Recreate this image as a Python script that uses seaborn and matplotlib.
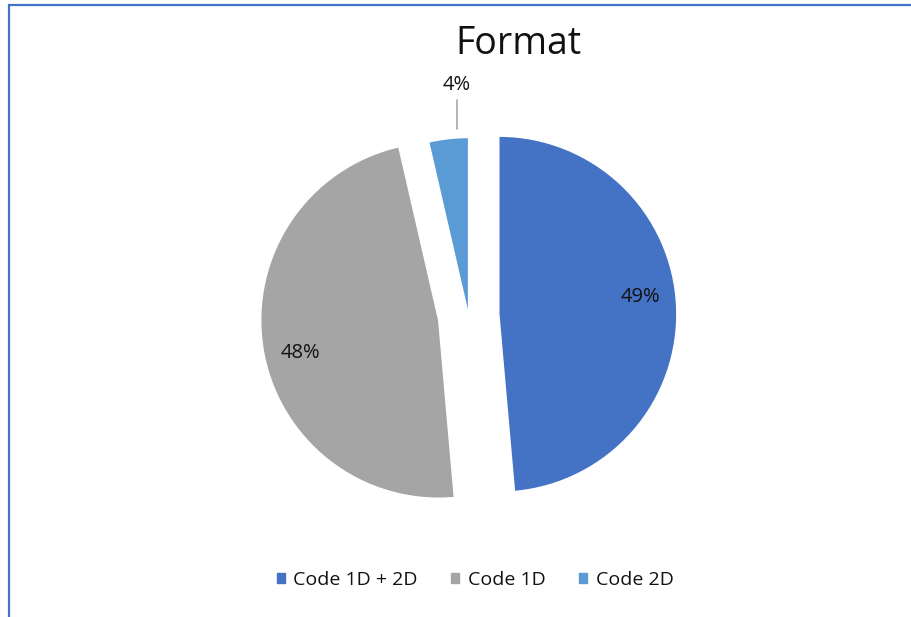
import numpy as np
import matplotlib
matplotlib.use('Agg')
import matplotlib.pyplot as plt
import matplotlib.patches as mpatches
import seaborn as sns

sns.set_theme(style='white')
plt.rcParams['font.family'] = ['Open Sans', 'DejaVu Sans']

# data
labels = ['Code 1D + 2D', 'Code 1D', 'Code 2D']
shares = [48.6, 47.8, 3.6]
explode = [0.17, 0.17, 0.0]
colors = ['#4472C4', '#A5A5A5', '#5B9BD5']

W, H = 912, 617
fig = plt.figure(figsize=(W / 100, H / 100), dpi=100)
ax = fig.add_axes([0, 0, 1, 1])

wedges, texts, autotexts = ax.pie(
    shares, explode=explode, colors=colors, startangle=90, counterclock=False,
    autopct=lambda p: f'{p:.0f}%', pctdistance=0.8,
    wedgeprops=dict(edgecolor='white', linewidth=1),
    textprops=dict(fontsize=14.5, color='#111111'))

# pixel -> data mapping: pie centre at (468.6, 315.5) px, radius 178 px
r_px = 178.0
cx, cy = 468.6, H - 315.5
ax.set_xlim(-cx / r_px, (W - cx) / r_px)
ax.set_ylim(-cy / r_px, (H - cy) / r_px)
ax.set_aspect('auto')
ax.axis('off')

# inside labels sit a little anticlockwise of the slice middle (as in Excel)
for w, t in zip(wedges[:2], autotexts[:2]):
    a = np.deg2rad((w.theta1 + w.theta2) / 2 + 4.5)
    wx, wy = w.center
    t.set_position((wx + 0.8 * np.cos(a), wy + 0.8 * np.sin(a)))

# small slice label sits outside with a leader line
small = autotexts[2]
lx = -0.065
small.set_position((lx, 1.295))
small.set_ha('center')
small.set_va('center')
ax.plot([lx, lx], [1.05, 1.21], color='#A5A5A5', linewidth=1.2)

fig.text(518 / W, 1 - 44 / H, 'Format', ha='center', va='center',
         fontsize=27, color='#111111')

handles = [mpatches.Patch(color=c, label=l) for c, l in zip(colors, labels)]
fig.legend(handles=handles, loc='center', bbox_to_anchor=(475 / W, 1 - 580 / H),
           ncol=3, frameon=False, fontsize=14, handlelength=0.42, handleheight=0.42,
           handletextpad=0.45, columnspacing=1.7, labelcolor='#111111')

# chart frame (partly cut off at the right and bottom)
frame = mpatches.Rectangle((9.5 / W, -0.2), 1.5, 1.2 - 5 / H,
                           transform=fig.transFigure, fill=False,
                           edgecolor='#4472C4', linewidth=1.6)
fig.patches.append(frame)

fig.savefig('out.png', dpi=100)
